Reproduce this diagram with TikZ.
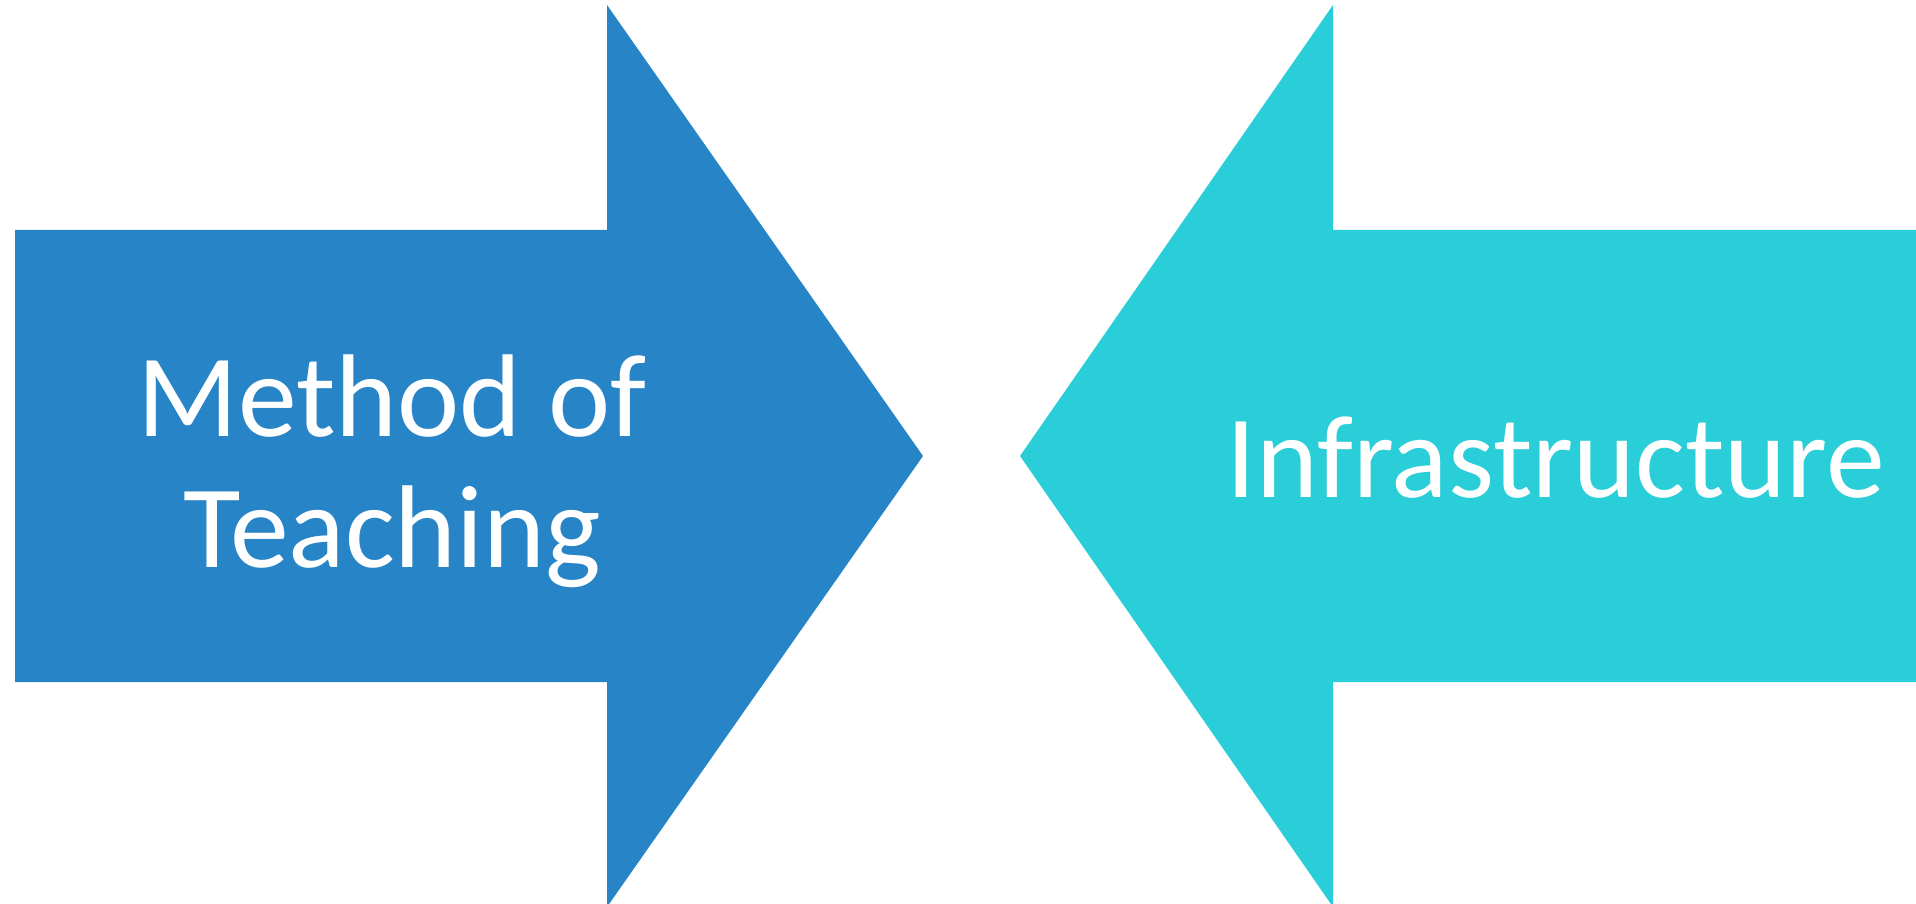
\documentclass[tikz,border=0pt]{standalone}
\usepackage{fontspec}
\setmainfont{Carlito}
\definecolor{teachblue}{HTML}{2784C7}
\definecolor{infracyan}{HTML}{29CED8}
\begin{document}
\begin{tikzpicture}[font=\fontsize{67}{75}\selectfont,
      bluearr/.style={fill=teachblue, draw=none},
      cyanarr/.style={fill=infracyan, draw=none},
      lbl/.style={text=white, align=center, inner sep=0pt}]
    \useasboundingbox (0,0) rectangle (38.32,18.06);
    \clip (0,0) rectangle (38.32,18.06);
    % left arrow, pointing right
    \fill[bluearr] (0.30,13.46) -- (12.14,13.46) -- (12.14,17.96) -- (18.46,8.94)
      -- (12.14,-0.08) -- (12.14,4.42) -- (0.30,4.42) -- cycle;
    % right arrow, pointing left
    \fill[cyanarr] (38.60,13.46) -- (26.66,13.46) -- (26.66,17.96) -- (20.40,8.94)
      -- (26.66,-0.08) -- (26.66,4.42) -- (38.60,4.42) -- cycle;
    % base of a two-line node sits on its last line
    \node[lbl, anchor=base] (teach) at (7.84,6.70) {Method of\\Teaching};
    \node[lbl, anchor=base] (infra) at (31.11,8.10) {Infrastructure};
  \end{tikzpicture}
\end{document}
